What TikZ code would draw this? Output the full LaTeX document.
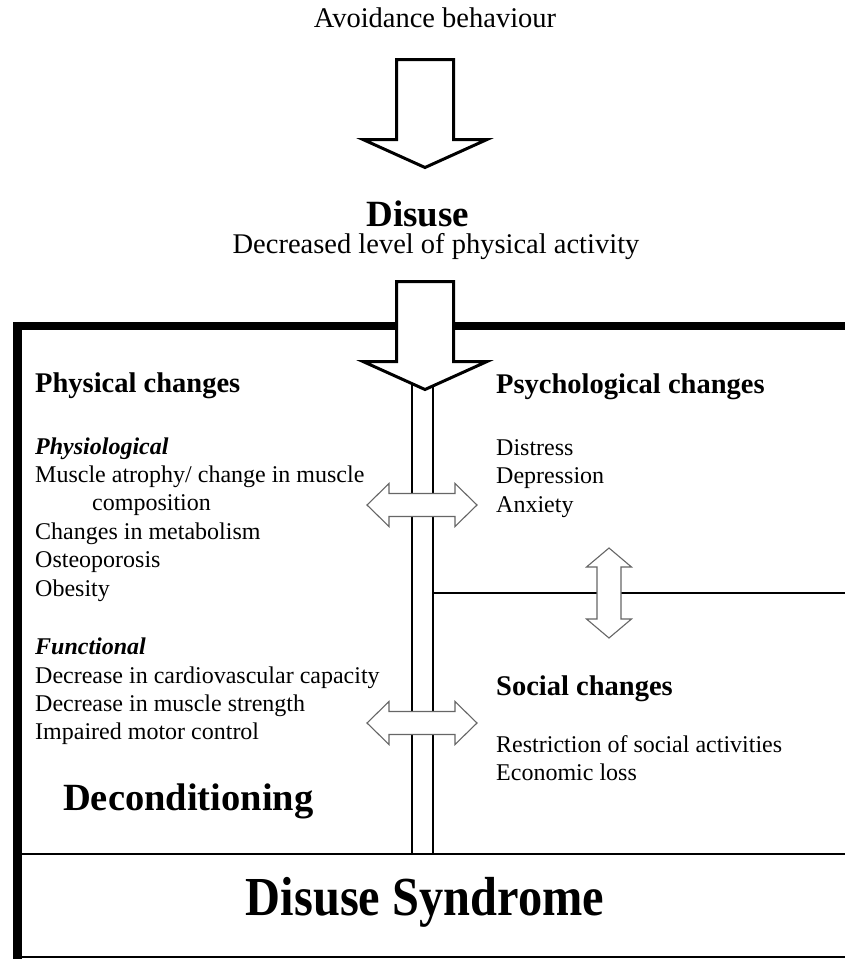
\documentclass[tikz,border=0pt]{standalone}
\usepackage{fontspec}
\setmainfont{Liberation Serif}
\newfontfamily\narrowfont{Liberation Serif}[FakeStretch=0.88]
\usetikzlibrary{positioning}

\tikzset{
  item/.style={inner sep=0pt,anchor=base west,font=\fontsize{24}{28}\selectfont},
  head/.style={item,font=\bfseries\fontsize{28.5}{32}\selectfont},
  sub/.style={item,font=\bfseries\itshape\fontsize{24}{28}\selectfont},
  title/.style={inner sep=0pt,anchor=base,font=\fontsize{28.5}{32}\selectfont},
  pics/bigdown/.style={code={
    \draw[line width=3pt,fill=white] (-28.5,0) -- (28.5,0) -- (28.5,80) -- (62,80) -- (0,108)
      -- (-62,80) -- (-28.5,80) -- cycle;}},
  pics/twoway/.style n args={4}{code={
    \draw[black!60,line width=1.1pt,fill=white] (-#1,0) -- (-#2,-#4) -- (-#2,-#3) -- (#2,-#3)
      -- (#2,-#4) -- (#1,0) -- (#2,#4) -- (#2,#3) -- (-#2,#3) -- (-#2,#4) -- cycle;}},
}

\begin{document}
\begin{tikzpicture}[x=1pt,y=-1pt]
\useasboundingbox (0,0) rectangle (845,959);

% top of the chain
\node[title] (avoid) at (435,27) {Avoidance behaviour};
\pic (arrowa) at (425,59.5) {bigdown};
\node[inner sep=0pt,anchor=base,font=\bfseries\fontsize{37}{42}\selectfont] (disuse) at (418,226) {Disuse};
\node[title] (level) at (436,253) {Decreased level of physical activity};

% outer frame
\coordinate (frametl) at (17.5,326);
\coordinate (framebl) at (17.5,962);
\draw[line width=8.5pt] (850,326) -- (frametl) -- (framebl);
\draw[line width=1.5pt] (17.5,957) -- (850,957);
\draw[line width=1.5pt] (17.5,854) -- (850,854);

% centre channel
\coordinate (chlt) at (412,380);
\coordinate (chlb) at (412,854);
\coordinate (chrt) at (433,380);
\coordinate (chrb) at (433,854);
\coordinate (split) at (433,593);
\draw[line width=1.2pt] (chlt) -- (chlb);
\draw[line width=1.2pt] (chrt) -- (chrb);
\draw[line width=1.2pt] (split) -- (850,593);

\pic (arrowb) at (425,281.5) {bigdown};
\pic (linka) at (422,505) {twoway={55}{33}{11.5}{21.5}};
\pic (linkb) at (422,723) {twoway={55}{33}{11.5}{21.5}};
\pic[rotate=90] (linkc) at (609,593) {twoway={45}{26}{12}{22.5}};

% physical side
\node[head] (phys) at (35,392) {Physical changes};
\node[sub] (physio) at (35,454) {Physiological};
\node[item] (p1) at (35,482) {Muscle atrophy/ change in muscle};
\node[item] (p2) at (92,510) {composition};
\node[item] (p3) at (35,539) {Changes in metabolism};
\node[item] (p4) at (35,567) {Osteoporosis};
\node[item] (p5) at (35,596) {Obesity};
\node[sub] (func) at (35,654) {Functional};
\node[item] (f1) at (35,683) {Decrease in cardiovascular capacity};
\node[item] (f2) at (35,711) {Decrease in muscle strength};
\node[item] (f3) at (35,739) {Impaired motor control};
\node[inner sep=0pt,anchor=base west,font=\bfseries\fontsize{38.5}{44}\selectfont] (decond) at (63,810) {Deconditioning};

% psychological and social side
\node[head] (psych) at (496,393) {Psychological changes};
\node[item] (s1) at (496,455) {Distress};
\node[item] (s2) at (496,483) {Depression};
\node[item] (s3) at (496,512) {Anxiety};
\node[head] (social) at (496,695) {Social changes};
\node[item] (c1) at (496,752) {Restriction of social activities};
\node[item] (c2) at (496,780) {Economic loss};

\node[inner sep=0pt,anchor=base,font=\narrowfont\bfseries\fontsize{55}{60}\selectfont] (syndrome) at (425,915) {Disuse Syndrome};
\end{tikzpicture}
\end{document}
